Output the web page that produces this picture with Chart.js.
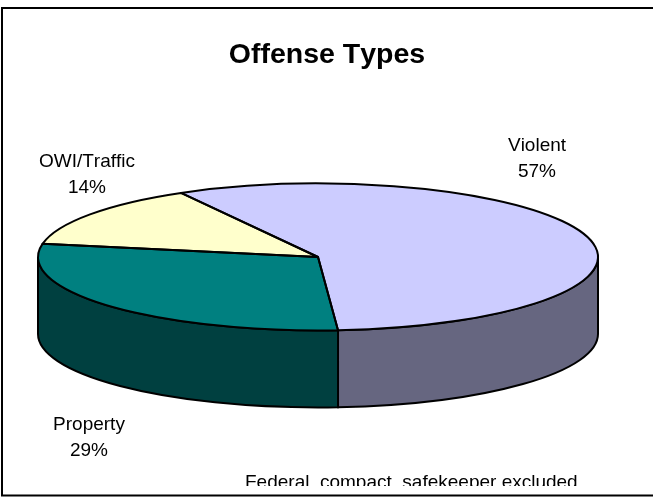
<!DOCTYPE html>
<html>
<head>
<meta charset="utf-8">
<title>Offense Types</title>
<script src="https://cdn.jsdelivr.net/npm/chart.js@4"></script>
<style>
    html, body { margin: 0; padding: 0; background: #fff; }
    canvas { display: block; }
</style>
</head>
<body>
<canvas id="chart" width="653" height="498"></canvas>
<script>
const categories = ['Violent', 'Property', 'OWI/Traffic'];
const shares = [57, 29, 14];
const topColors = ['#ccccff', '#008080', '#ffffcc'];
const wallColors = ['#666680', '#004040', '#808066'];
const titleText = 'Offense Types';
const noteText = 'Federal, compact, safekeeper excluded.';

// Label centres, placed by hand like the original
const labelCentres = [[537, 146], [89, 425], [87, 162]];
const labelLeading = 25.5;

// 3D look: pie squashed into an ellipse, with a wall below it
const radiusX = 280;
const radiusY = 73.5;
const depth = 77;
const font = '"Liberation Sans", Arial, sans-serif';

function wallSpan(arc) {
    // Only the part of a slice on the front half has a visible wall
    let start = arc.startAngle;
    let end = arc.endAngle;
    while (start < 0 && end <= 0) { start += Math.PI * 2; end += Math.PI * 2; }
    start = Math.max(start, 0);
    end = Math.min(end, Math.PI);
    return end > start ? [start, end] : null;
}

const pie3d = {
    id: 'pie3d',
    beforeDatasetsDraw(chart) {
        const ctx = chart.ctx;
        const arcs = chart.getDatasetMeta(0).data;
        ctx.save();
        ctx.lineWidth = 2;
        ctx.strokeStyle = '#000';
        arcs.forEach((arc, i) => {
            const span = wallSpan(arc);
            if (!span) return;
            ctx.beginPath();
            ctx.ellipse(arc.x, arc.y, radiusX, radiusY, 0, span[0], span[1]);
            ctx.ellipse(arc.x, arc.y + depth, radiusX, radiusY, 0, span[1], span[0], true);
            ctx.closePath();
            ctx.fillStyle = wallColors[i];
            ctx.fill();
            ctx.stroke();
        });
        ctx.restore();

        const c = arcs[0];
        ctx.save();
        ctx.translate(c.x, c.y);
        ctx.scale(1, radiusY / radiusX);
        ctx.translate(-c.x, -c.y);
    },
    afterDatasetsDraw(chart) {
        const ctx = chart.ctx;
        ctx.restore();
        ctx.save();
        ctx.lineWidth = 2;
        ctx.lineJoin = 'round';
        ctx.strokeStyle = '#000';
        chart.getDatasetMeta(0).data.forEach(arc => {
            ctx.beginPath();
            ctx.moveTo(arc.x, arc.y);
            ctx.ellipse(arc.x, arc.y, radiusX, radiusY, 0, arc.startAngle, arc.endAngle);
            ctx.closePath();
            ctx.stroke();
        });
        ctx.restore();
    },
    afterDraw(chart) {
        const ctx = chart.ctx;
        ctx.save();
        // Frame runs off the right side of the picture
        ctx.strokeStyle = '#000';
        ctx.lineWidth = 2;
        ctx.beginPath();
        ctx.moveTo(653, 8);
        ctx.lineTo(2, 8);
        ctx.lineTo(2, 495.5);
        ctx.lineTo(653, 495.5);
        ctx.stroke();

        ctx.textAlign = 'center';
        ctx.textBaseline = 'middle';
        ctx.fillStyle = '#000';
        ctx.fontKerning = 'none';
        ctx.font = 'bold 28.5px ' + font;
        ctx.fillText(titleText, 327, 55);

        ctx.font = '19px ' + font;
        categories.forEach((name, i) => {
            const [x, y] = labelCentres[i];
            ctx.fillText(name, x, y);
            ctx.fillText(shares[i] + '%', x, y + labelLeading);
        });

        // The footnote is cut off by the bottom of its box in the original
        ctx.beginPath();
        ctx.rect(0, 460, 653, 26);
        ctx.clip();
        ctx.textAlign = 'left';
        ctx.textBaseline = 'alphabetic';
        ctx.fillText(noteText, 245, 487.5);
        ctx.restore();
    }
};

new Chart(document.getElementById('chart'), {
    type: 'pie',
    data: {
        labels: categories,
        datasets: [{
            data: shares,
            backgroundColor: topColors,
            borderWidth: 0,
            clip: false
        }]
    },
    options: {
        responsive: false,
        animation: false,
        rotation: -29.3,
        radius: radiusX,
        layout: { padding: { top: 16, right: 17 } },
        plugins: {
            legend: { display: false },
            tooltip: { enabled: false }
        }
    },
    plugins: [pie3d]
});
</script>
</body>
</html>
